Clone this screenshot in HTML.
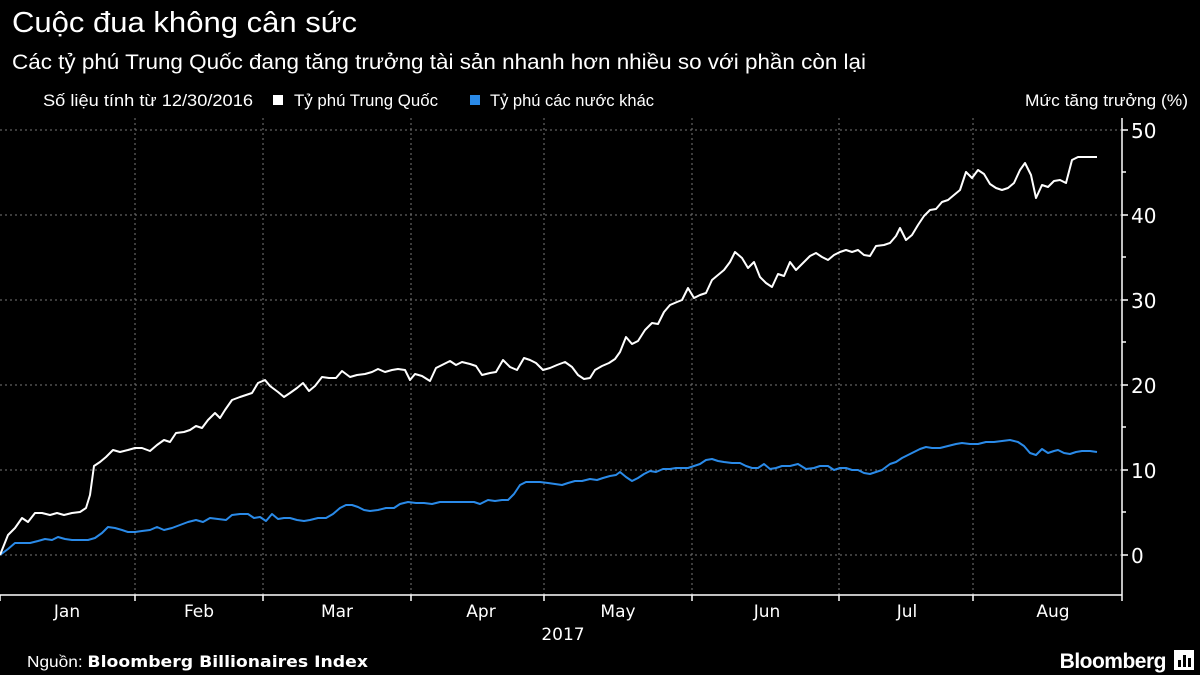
<!DOCTYPE html>
<html><head><meta charset="utf-8"><style>
html,body{margin:0;padding:0;background:#000;}
body{width:1200px;height:675px;overflow:hidden;position:relative;font-family:"Liberation Sans","DejaVu Sans",sans-serif;color:#fff;}
</style></head><body>
<svg width="1200" height="675" viewBox="0 0 1200 675" xmlns="http://www.w3.org/2000/svg" style="position:absolute;left:0;top:0" font-family="Liberation Sans, DejaVu Sans, sans-serif">
<rect width="1200" height="675" fill="#000"/>
<text x="12" y="32" font-size="29" fill="#fff" textLength="345" lengthAdjust="spacingAndGlyphs">Cuộc đua không cân sức</text>
<text x="12" y="69" font-size="21" fill="#fff" textLength="854" lengthAdjust="spacingAndGlyphs">Các tỷ phú Trung Quốc đang tăng trưởng tài sản nhanh hơn nhiều so với phần còn lại</text>
<text x="43" y="106" font-size="16.5" fill="#fff" textLength="210" lengthAdjust="spacingAndGlyphs">Số liệu tính từ 12/30/2016</text>
<rect x="273" y="95" width="10" height="10" fill="#fff"/>
<text x="294" y="106" font-size="16.5" fill="#fff" textLength="144" lengthAdjust="spacingAndGlyphs">Tỷ phú Trung Quốc</text>
<rect x="470" y="95" width="10" height="10" fill="#2a8ae8"/>
<text x="490" y="106" font-size="16.5" fill="#fff" textLength="164" lengthAdjust="spacingAndGlyphs">Tỷ phú các nước khác</text>
<text x="1025" y="106" font-size="17" fill="#fff" textLength="163" lengthAdjust="spacingAndGlyphs">Mức tăng trưởng (%)</text>
<g stroke="#777" stroke-width="1" stroke-dasharray="2,3">
<line x1="0" y1="130" x2="1122" y2="130"/><line x1="0" y1="215" x2="1122" y2="215"/><line x1="0" y1="300" x2="1122" y2="300"/><line x1="0" y1="385" x2="1122" y2="385"/><line x1="0" y1="470" x2="1122" y2="470"/><line x1="0" y1="555" x2="1122" y2="555"/>
<line x1="135" y1="118" x2="135" y2="595"/><line x1="263" y1="118" x2="263" y2="595"/><line x1="411" y1="118" x2="411" y2="595"/><line x1="544" y1="118" x2="544" y2="595"/><line x1="692" y1="118" x2="692" y2="595"/><line x1="839" y1="118" x2="839" y2="595"/><line x1="973" y1="118" x2="973" y2="595"/>
</g>
<g stroke="#fff" stroke-width="1.5">
<line x1="0" y1="595" x2="1122" y2="595"/><line x1="1122" y1="118" x2="1122" y2="595"/>
<line x1="0" y1="595" x2="0" y2="601"/><line x1="135" y1="595" x2="135" y2="601"/><line x1="263" y1="595" x2="263" y2="601"/><line x1="411" y1="595" x2="411" y2="601"/><line x1="544" y1="595" x2="544" y2="601"/><line x1="692" y1="595" x2="692" y2="601"/><line x1="839" y1="595" x2="839" y2="601"/><line x1="973" y1="595" x2="973" y2="601"/><line x1="1122" y1="595" x2="1122" y2="601"/>
<line x1="1122" y1="130" x2="1128" y2="130"/><line x1="1122" y1="215" x2="1128" y2="215"/><line x1="1122" y1="300" x2="1128" y2="300"/><line x1="1122" y1="385" x2="1128" y2="385"/><line x1="1122" y1="470" x2="1128" y2="470"/><line x1="1122" y1="555" x2="1128" y2="555"/>
<line x1="1122" y1="172" x2="1126" y2="172"/><line x1="1122" y1="257" x2="1126" y2="257"/><line x1="1122" y1="342" x2="1126" y2="342"/><line x1="1122" y1="427" x2="1126" y2="427"/><line x1="1122" y1="512" x2="1126" y2="512"/>
</g>
<g font-size="20" fill="#fff" font-family="DejaVu Sans, sans-serif">
<text x="1131" y="138">50</text><text x="1131" y="223">40</text><text x="1131" y="308">30</text><text x="1131" y="393">20</text><text x="1131" y="478">10</text><text x="1131" y="563">0</text>
</g>
<g font-size="17" fill="#fff" font-family="DejaVu Sans, sans-serif" text-anchor="middle">
<text x="67" y="617">Jan</text><text x="199" y="617">Feb</text><text x="337" y="617">Mar</text><text x="481" y="617">Apr</text><text x="618" y="617">May</text><text x="767" y="617">Jun</text><text x="907" y="617">Jul</text><text x="1053" y="617">Aug</text>
<text x="563" y="640">2017</text>
</g>
<polyline fill="none" stroke="#2a8ae8" stroke-width="2" stroke-linejoin="round" points="0,555 8,549 15,543 22,543 30,543 38,541 45,539 52,540 58,537 65,539 72,540 80,540 88,540 95,538 102,533 108,527 115,528 122,530 128,532 135,532 142,531 150,530 157,527 164,530 172,528 180,525 188,522 196,520 203,522 210,518 218,519 226,520 232,515 240,514 248,514 254,518 260,517 266,521 272,514 278,519 284,518 290,518 297,520 304,521 310,520 318,518 326,518 333,514 340,508 346,505 352,505 358,507 364,510 370,511 378,510 386,508 394,508 400,504 408,502 416,503 424,503 432,504 440,502 450,502 458,502 466,502 474,502 480,504 488,500 495,501 502,500 508,500 514,494 520,485 526,482 534,482 540,482 548,483 555,484 562,485 568,483 575,481 582,481 590,479 597,480 603,478 610,476 616,475 620,472 626,477 632,481 638,478 644,474 650,471 656,472 663,469 670,469 676,468 682,468 688,468 694,466 700,464 706,460 712,459 718,461 724,462 732,463 740,463 746,466 752,468 758,468 764,464 770,469 776,468 782,466 790,466 798,464 806,469 814,468 820,466 828,466 834,470 840,468 846,468 852,470 858,470 864,473 870,474 876,472 882,470 890,464 896,462 902,458 908,455 914,452 920,449 926,447 932,448 940,448 948,446 956,444 962,443 970,444 978,444 986,442 994,442 1002,441 1010,440 1018,442 1024,446 1030,453 1036,455 1042,449 1048,453 1054,451 1058,450 1064,453 1070,454 1076,452 1082,451 1090,451 1097,452"/>
<polyline fill="none" stroke="#fff" stroke-width="2" stroke-linejoin="round" points="0,555 8,535 15,528 22,518 28,522 35,513 42,513 50,515 57,513 64,515 72,513 80,512 86,508 90,495 94,466 100,462 106,457 113,450 120,452 128,450 135,448 142,448 150,451 157,445 164,440 170,442 176,433 184,432 190,430 196,426 202,428 208,420 215,413 220,418 225,410 232,400 240,397 246,395 252,393 258,383 265,380 270,386 278,392 284,397 290,393 297,388 303,383 309,391 315,386 322,377 329,378 336,378 342,371 350,377 357,375 365,374 372,372 378,369 385,372 392,370 398,369 405,370 410,380 415,374 422,376 430,381 436,368 442,365 450,361 456,365 462,362 470,364 476,366 482,375 490,373 496,372 503,360 510,367 517,370 524,358 530,360 536,363 543,370 550,368 557,365 565,362 572,367 578,375 584,379 590,378 595,370 602,366 609,363 615,359 620,352 626,337 632,344 638,341 645,330 652,323 658,324 664,312 670,305 677,302 682,300 688,288 694,298 700,295 706,293 712,280 718,275 724,270 730,262 735,252 742,258 748,268 754,262 760,277 766,283 772,287 778,274 784,276 790,262 796,270 803,263 810,256 816,253 822,257 828,260 834,255 840,252 846,250 852,252 858,250 864,255 870,256 876,246 884,245 890,243 896,236 900,228 906,240 912,235 918,225 924,216 930,210 936,209 942,202 948,200 954,195 960,190 966,172 972,178 978,170 984,174 990,184 996,188 1002,190 1008,188 1014,183 1020,170 1025,163 1031,175 1036,198 1042,185 1048,187 1054,181 1060,180 1066,183 1072,160 1078,157 1085,157 1097,157"/>
<text x="27" y="667" font-size="16" fill="#fff" textLength="341" lengthAdjust="spacingAndGlyphs">Nguồn: <tspan font-family="DejaVu Sans, sans-serif" font-weight="bold">Bloomberg Billionaires Index</tspan></text>
<text x="1166" y="668" font-size="21" font-weight="bold" fill="#fff" text-anchor="end" letter-spacing="-0.5">Bloomberg</text>
<rect x="1174" y="650" width="20" height="20" fill="#fff"/>
<rect x="1178" y="660" width="3" height="7" fill="#000"/><rect x="1183" y="655" width="3" height="12" fill="#000"/><rect x="1188" y="658" width="3" height="9" fill="#000"/>
</svg>
</body></html>
